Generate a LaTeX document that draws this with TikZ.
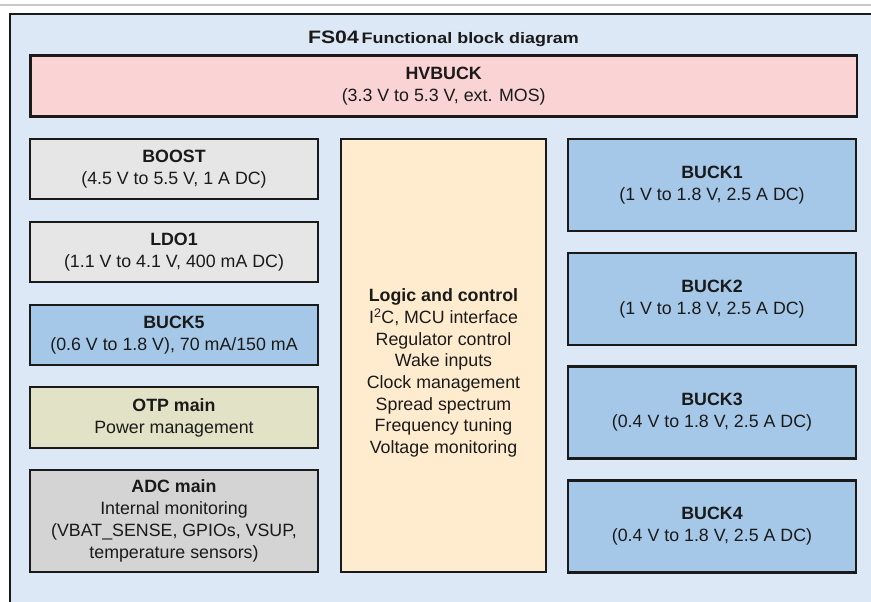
\documentclass[tikz,border=0pt]{standalone}
\usepackage{fontspec}
\setmainfont{Liberation Sans}
\newfontfamily\titlefont[FakeStretch=1.18]{Liberation Sans}
\definecolor{outerbg}{HTML}{DCE8F6}
\definecolor{hvfill}{HTML}{FAD4D4}
\definecolor{grayfill}{HTML}{E6E6E6}
\definecolor{bluefill}{HTML}{A6C8E8}
\definecolor{otpfill}{HTML}{E2E3C6}
\definecolor{adcfill}{HTML}{D4D4D4}
\definecolor{logicfill}{HTML}{FFECCF}
\definecolor{txt}{HTML}{1A1A1A}
\definecolor{rule}{HTML}{C8C8C8}
\begin{document}
\begin{tikzpicture}[x=1pt,y=-1pt,
  blk/.style={draw=txt, line width=2.2pt, align=center, inner sep=0pt,
    font=\fontsize{17.8}{22}\selectfont, text=txt},
  txtnode/.style={align=center, inner sep=0pt, text=txt,
    font=\fontsize{17.8}{21.7}\selectfont}]
\useasboundingbox (0,0) rectangle (871,602);
\clip (0,0) rectangle (871,602);
\fill[white] (0,0) rectangle (871,602);
\draw[rule, line width=2pt] (0,5) -- (871,5);
\draw[txt, line width=2.4pt, fill=outerbg] (9.7,13.8) rectangle (900,640);

\node[text=txt, inner sep=0pt, anchor=base] (title) at (443.5,43.3)
  {{\titlefont\fontsize{18}{20}\selectfont\bfseries FS04} {\titlefont\fontsize{15.2}{18}\selectfont\bfseries Functional block diagram}};

\node[blk, fill=hvfill, minimum width=826.5pt, minimum height=61pt] (hvbuck) at (443.7,86)
  {\textbf{HVBUCK}\\(3.3 V to 5.3 V, ext. MOS)};

\node[blk, fill=grayfill, minimum width=288pt, minimum height=60pt] (boost) at (174,169)
  {\textbf{BOOST}\\(4.5 V to 5.5 V, 1 A DC)};
\node[blk, fill=grayfill, minimum width=288pt, minimum height=60pt] (ldo1) at (174,252)
  {\textbf{LDO1}\\(1.1 V to 4.1 V, 400 mA DC)};
\node[blk, fill=bluefill, minimum width=288pt, minimum height=60pt] (buck5) at (174,335)
  {\textbf{BUCK5}\\(0.6 V to 1.8 V), 70 mA/150 mA};
\node[blk, fill=otpfill, minimum width=288pt, minimum height=61pt] (otp) at (174,417.5)
  {\textbf{OTP main}\\Power management};
\node[blk, fill=adcfill, minimum width=288pt, minimum height=102pt] (adc) at (174,521)
  {\textbf{ADC main}\\Internal monitoring\\(VBAT\_SENSE, GPIOs, VSUP,\\temperature sensors)};

\node[blk, fill=logicfill, minimum width=205pt, minimum height=433pt] (logic) at (443.5,355.5) {};
\node[txtnode] (logictext) at (443.5,373)
  {\textbf{Logic and control}\\I\textsuperscript{2}C, MCU interface\\Regulator control\\Wake inputs\\Clock management\\Spread spectrum\\Frequency tuning\\Voltage monitoring};

\node[blk, fill=bluefill, minimum width=288pt, minimum height=92pt] (buck1) at (712,185)
  {\textbf{BUCK1}\\(1 V to 1.8 V, 2.5 A DC)};
\node[blk, fill=bluefill, minimum width=288pt, minimum height=92pt] (buck2) at (712,299)
  {\textbf{BUCK2}\\(1 V to 1.8 V, 2.5 A DC)};
\node[blk, fill=bluefill, minimum width=288pt, minimum height=92pt] (buck3) at (712,412.5)
  {\textbf{BUCK3}\\(0.4 V to 1.8 V, 2.5 A DC)};
\node[blk, fill=bluefill, minimum width=288pt, minimum height=92pt] (buck4) at (712,526.5)
  {\textbf{BUCK4}\\(0.4 V to 1.8 V, 2.5 A DC)};
\end{tikzpicture}
\end{document}
